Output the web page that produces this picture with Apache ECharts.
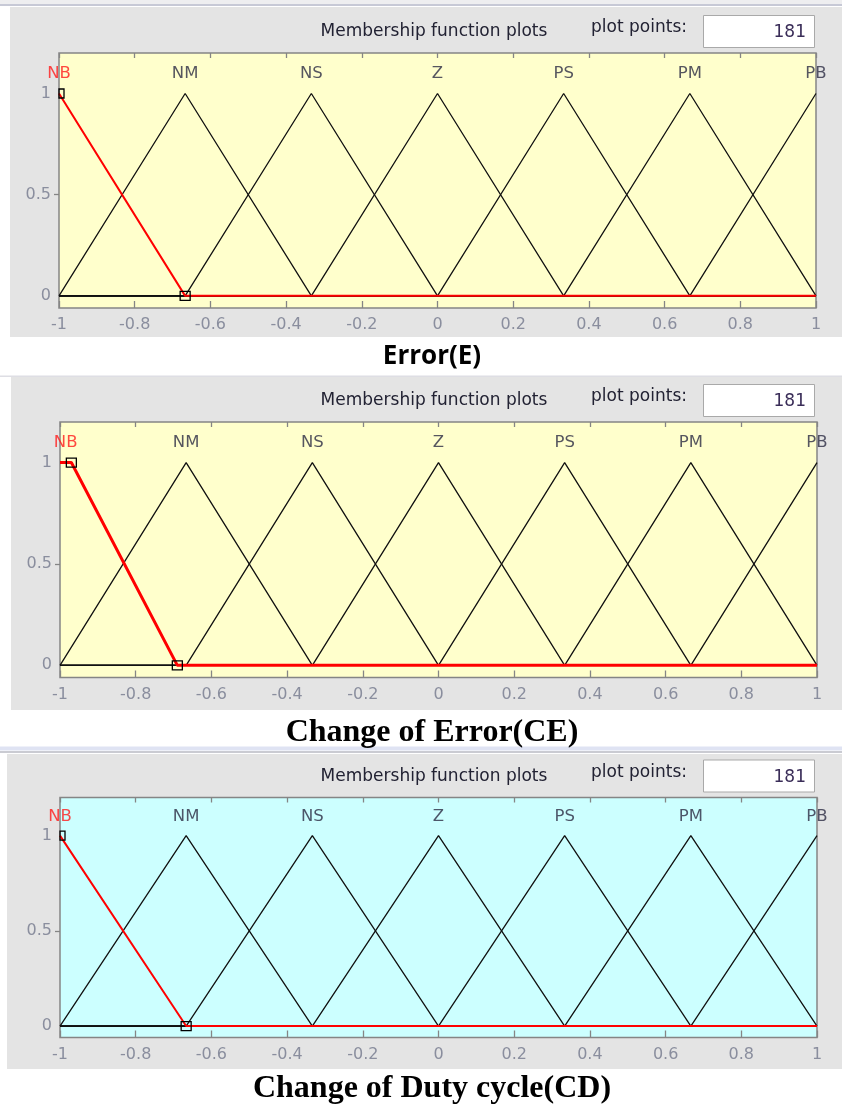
<!DOCTYPE html>
<html>
<head>
<meta charset="utf-8">
<script src="https://cdn.jsdelivr.net/npm/echarts@6/dist/echarts.min.js"></script>
<style>
  html, body { margin: 0; padding: 0; background: #ffffff; }
  #chart { width: 842px; height: 1106px; }
</style>
</head>
<body>
<div id="chart"></div>
<script>
// Universe of discourse and axis ticks shared by the three variables
const xTicks = [-1, -0.8, -0.6, -0.4, -0.2, 0, 0.2, 0.4, 0.6, 0.8, 1];
const yTicks = [0, 0.5, 1];
const mfNames = ['NB', 'NM', 'NS', 'Z', 'PS', 'PM', 'PB'];
const plotPoints = 181;
const selectedIndex = 0; // NB is the highlighted function

// Membership function parameters: trimf [a b c], trapmf [a b c d]
const errorParams = [
  [-1.333, -1, -0.6667],
  [-1, -0.6667, -0.3333],
  [-0.6667, -0.3333, 0],
  [-0.3333, 0, 0.3333],
  [0, 0.3333, 0.6667],
  [0.3333, 0.6667, 1],
  [0.6667, 1, 1.333]
];
const changeErrorParams = [
  [-1.3, -1.03, -0.97, -0.69],
  [-1, -0.6667, -0.3333],
  [-0.6667, -0.3333, 0],
  [-0.3333, 0, 0.3333],
  [0, 0.3333, 0.6667],
  [0.3333, 0.6667, 1],
  [0.6667, 1, 1.333]
];
const dutyParams = [
  [-1.333, -1, -0.6667],
  [-1, -0.6667, -0.3333],
  [-0.6667, -0.3333, 0],
  [-0.3333, 0, 0.3333],
  [0, 0.3333, 0.6667],
  [0.3333, 0.6667, 1],
  [0.6667, 1, 1.333]
];

// Where each function name sits along x
const errorLabelX = [-1, -0.6667, -0.3333, 0, 0.3333, 0.6667, 1];
const changeErrorLabelX = [-0.985, -0.6667, -0.3333, 0, 0.3333, 0.6667, 1];
const dutyLabelX = [-1, -0.6667, -0.3333, 0, 0.3333, 0.6667, 1];
const labelY = 1.1;

const panelTitles = ['Error(E)', 'Change of Error(CE)', 'Change of Duty cycle(CD)'];

// ---- layout / styling ----
const panels = [
  { params: errorParams, labelX: errorLabelX, left: 59, top: 53, height: 255, plotBg: '#ffffcc', redWidth: 2,
    bg: { x: 10, y: 7, w: 832, h: 330 }, title: { y: 357, font: 'bold 26px "Open Sans"' } },
  { params: changeErrorParams, labelX: changeErrorLabelX, left: 60, top: 422, height: 255.5, plotBg: '#ffffcc', redWidth: 3,
    bg: { x: 11, y: 377, w: 831, h: 333 }, title: { y: 733, font: 'bold 32px "Liberation Serif"' } },
  { params: dutyParams, labelX: dutyLabelX, left: 60, top: 797.5, height: 240, plotBg: '#ccffff', redWidth: 2,
    bg: { x: 7, y: 754, w: 835, h: 315 }, title: { y: 1089, font: 'bold 32px "Liberation Serif"' } }
];
const plotWidth = 757;
const yMin = -0.06, yMax = 1.2;
const guiFont = 'DejaVu Sans';
const panelGray = '#e4e4e4';
const tickGray = '#8a8e9e';
const borderGray = '#858585';

// Piecewise-linear membership evaluation
function trap(p) { return p.length === 3 ? [p[0], p[1], p[1], p[2]] : p; }
function mfValue(p, x) {
  const [a, b, c, d] = trap(p);
  if (x >= b && x <= c) return 1;
  if (x <= a || x >= d) return 0;
  if (x < b) return (x - a) / (b - a);
  return (d - x) / (d - c);
}
function mfLine(p) {
  const xs = [-1, 1].concat(p.filter(v => v > -1 && v < 1));
  xs.sort((u, v) => u - v);
  const uniq = xs.filter((v, i) => i === 0 || v !== xs[i - 1]);
  return uniq.map(x => [x, mfValue(p, x)]);
}
function mfMarkers(p) {
  const [a, b, c, d] = trap(p);
  const pts = [[a, 0], [b, 1], [c, 1], [d, 0]];
  return pts.filter((q, i) => q[0] >= -1 && q[0] <= 1 && !(i === 2 && c === b));
}

const grids = [], xAxes = [], yAxes = [], series = [], graphics = [];

// Decorative window frame pieces
graphics.push({ type: 'rect', z: -20, shape: { x: 0, y: 0, width: 842, height: 4 }, style: { fill: '#eeeef0' } });
graphics.push({ type: 'rect', z: -20, shape: { x: 0, y: 4, width: 842, height: 2 }, style: { fill: '#c7c9d6' } });
graphics.push({ type: 'rect', z: -20, shape: { x: 0, y: 375.5, width: 842, height: 1.5 }, style: { fill: '#dedee4' } });
graphics.push({ type: 'rect', z: -20, shape: { x: 0, y: 746.5, width: 842, height: 4 }, style: { fill: '#dfe3f3' } });
graphics.push({ type: 'rect', z: -20, shape: { x: 0, y: 751, width: 842, height: 2 }, style: { fill: '#cacbd2' } });

panels.forEach((pn, k) => {
  grids.push({
    left: pn.left, top: pn.top, width: plotWidth, height: pn.height,
    show: true, backgroundColor: pn.plotBg, borderColor: borderGray, borderWidth: 1.5
  });
  xAxes.push({
    gridIndex: k, type: 'value', position: 'bottom', min: -1, max: 1,
    axisLine: { show: false, onZero: false }, splitLine: { show: false },
    axisTick: { inside: true, length: 7, customValues: xTicks, lineStyle: { color: borderGray, width: 1.3 } },
    axisLabel: {
      customValues: xTicks, margin: 9, color: tickGray, fontFamily: guiFont, fontSize: 16,
      formatter: v => String(+(+v).toFixed(2))
    }
  });
  xAxes.push({
    gridIndex: k, type: 'value', position: 'top', min: -1, max: 1,
    axisLine: { show: false, onZero: false }, splitLine: { show: false }, axisLabel: { show: false },
    axisTick: { inside: true, length: 5, customValues: xTicks, lineStyle: { color: borderGray, width: 1.3 } }
  });
  yAxes.push({
    gridIndex: k, type: 'value', position: 'left', min: yMin, max: yMax,
    axisLine: { show: false, onZero: false }, splitLine: { show: false },
    axisTick: { show: true, inside: false, length: 5, customValues: [0.5], lineStyle: { color: borderGray, width: 1.3 } },
    axisLabel: {
      customValues: yTicks, margin: 8, color: tickGray, fontFamily: guiFont, fontSize: 16,
      formatter: v => String(+(+v).toFixed(2))
    }
  });

  // Black curves for the non-selected functions
  pn.params.forEach((p, j) => {
    if (j === selectedIndex) return;
    series.push({
      type: 'line', xAxisIndex: 2 * k, yAxisIndex: k, data: mfLine(p),
      symbol: 'none', z: 2, lineStyle: { color: '#111111', width: 1.3 }, silent: true
    });
  });
  // Highlighted function in red
  series.push({
    type: 'line', xAxisIndex: 2 * k, yAxisIndex: k, data: mfLine(pn.params[selectedIndex]),
    symbol: 'none', z: 3, lineStyle: { color: '#ff0000', width: pn.redWidth }, silent: true
  });
  // Parameter handles of the highlighted function
  series.push({
    type: 'custom', xAxisIndex: 2 * k, yAxisIndex: k, z: 4, silent: true,
    data: mfMarkers(pn.params[selectedIndex]),
    renderItem: (params, api) => {
      const pt = api.coord([api.value(0), api.value(1)]);
      const cs = params.coordSys;
      const r = echarts.graphic.clipRectByRect(
        { x: pt[0] - 5, y: pt[1] - 4.5, width: 10, height: 9 },
        { x: cs.x, y: cs.y, width: cs.width, height: cs.height }
      );
      if (!r) return null;
      return { type: 'rect', shape: r, style: { fill: 'none', stroke: '#000000', lineWidth: 1.3 } };
    }
  });
  // Function names
  series.push({
    type: 'scatter', xAxisIndex: 2 * k, yAxisIndex: k, z: 5, silent: true,
    symbolSize: 1, itemStyle: { color: 'rgba(0,0,0,0)' },
    data: pn.labelX.map((x, j) => ({
      value: [x, labelY], name: mfNames[j],
      label: { color: j === selectedIndex ? '#ff1a1a' : '#2c2c44' }
    })),
    label: {
      show: true, position: 'inside', formatter: d => d.name,
      fontFamily: guiFont, fontSize: 16.5, fontWeight: 'normal'
    }
  });

  // Panel background and header controls
  graphics.push({ type: 'rect', z: -10, shape: { x: pn.bg.x, y: pn.bg.y, width: pn.bg.w, height: pn.bg.h }, style: { fill: panelGray } });
  graphics.push({
    type: 'text', z: 10, x: 434, y: pn.top - 21,
    style: { text: 'Membership function plots', font: '17px "' + guiFont + '"', fill: '#222233', align: 'center', verticalAlign: 'middle' }
  });
  graphics.push({
    type: 'text', z: 10, x: 639, y: pn.top - 25,
    style: { text: 'plot points:', font: '17px "' + guiFont + '"', fill: '#222233', align: 'center', verticalAlign: 'middle' }
  });
  graphics.push({
    type: 'rect', z: 8, shape: { x: 703.5, y: pn.top - 37.5, width: 111, height: 32 },
    style: { fill: '#ffffff', stroke: '#a9a9a9', lineWidth: 1 }
  });
  graphics.push({
    type: 'text', z: 10, x: 806, y: pn.top - 20,
    style: { text: String(plotPoints), font: '17px "' + guiFont + '"', fill: '#3a2d58', align: 'right', verticalAlign: 'middle' }
  });
  // Caption under the panel
  graphics.push({
    type: 'text', z: 10, x: 432, y: pn.title.y,
    style: { text: panelTitles[k], font: pn.title.font, fill: '#000000', align: 'center', verticalAlign: 'middle' }
  });
});

const chart = echarts.init(document.getElementById('chart'), null, { renderer: 'canvas' });
chart.setOption({
  animation: false,
  backgroundColor: '#ffffff',
  grid: grids,
  xAxis: xAxes,
  yAxis: yAxes,
  series: series,
  graphic: { elements: graphics }
});
</script>
</body>
</html>
